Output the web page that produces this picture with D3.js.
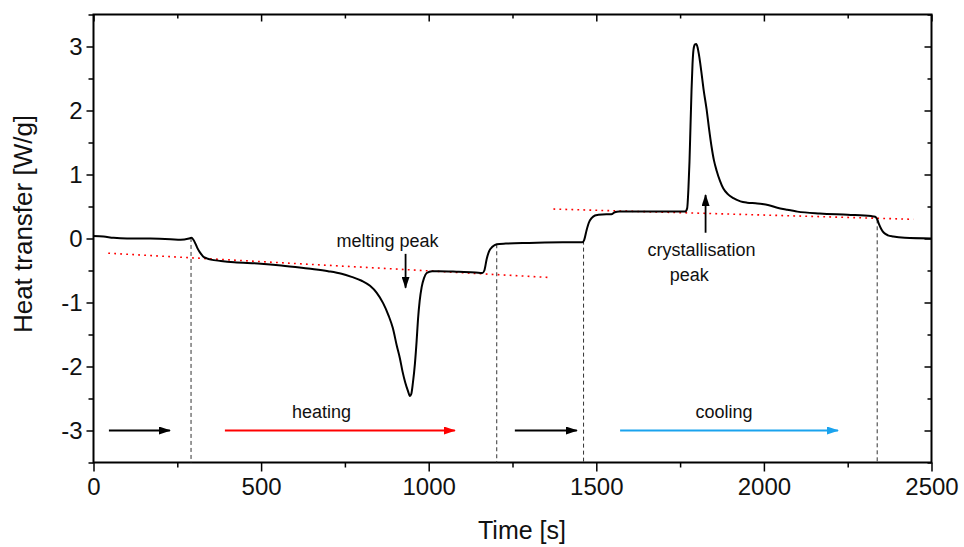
<!DOCTYPE html>
<html>
<head>
<meta charset="utf-8">
<script src="https://cdn.jsdelivr.net/npm/d3@7/dist/d3.min.js"></script>
<style>
  html, body { margin: 0; padding: 0; background: #fff; }
  svg { display: block; }
  text { font-family: "Liberation Sans", Arial, sans-serif; fill: #111; }
</style>
</head>
<body>
<div id="chart"></div>
<script>
// ---------- data ----------
const timeS = [0,30,60,100,170,230,260,285,292,298,304,310,318,327,338,350,380,420,490,560,640,700,740,770,800,825,845,864,880,893,905,914,922,930,938,944,948,953,959,964,968,973,979,986,994,1010,1030,1090,1140,1160,1166,1173,1180,1190,1203,1230,1300,1400,1458,1464,1471,1478,1486,1496,1506,1530,1545,1555,1568,1600,1700,1765,1771,1775,1778,1781,1784,1787,1790,1794,1798,1802,1806,1810,1814,1820,1829,1836,1844,1851,1859,1869,1879,1893,1909,1930,1950,1975,1995,2015,2040,2068,2100,2167,2250,2320,2332,2338,2343,2350,2358,2370,2386,2420,2500];
const heatWg = [0.04,0.03,0.01,0.0,0.0,-0.01,-0.02,0.0,0.01,-0.02,-0.08,-0.15,-0.22,-0.28,-0.31,-0.33,-0.35,-0.37,-0.39,-0.42,-0.47,-0.51,-0.55,-0.60,-0.66,-0.74,-0.85,-1.01,-1.20,-1.40,-1.68,-1.87,-2.08,-2.25,-2.38,-2.46,-2.43,-2.25,-1.95,-1.60,-1.27,-0.98,-0.76,-0.62,-0.54,-0.51,-0.51,-0.52,-0.53,-0.54,-0.50,-0.32,-0.20,-0.13,-0.09,-0.08,-0.07,-0.06,-0.06,-0.02,0.13,0.25,0.32,0.36,0.37,0.38,0.38,0.41,0.42,0.42,0.42,0.42,0.47,0.80,1.20,1.75,2.30,2.72,2.95,3.03,3.04,2.99,2.88,2.74,2.58,2.33,2.02,1.73,1.43,1.22,1.06,0.90,0.78,0.69,0.63,0.58,0.56,0.55,0.54,0.52,0.48,0.45,0.42,0.39,0.37,0.35,0.34,0.30,0.23,0.15,0.09,0.05,0.03,0.01,0.0];

// phase boundaries (s)
const phaseBoundaries = [291, 1203, 1462, 2338];

// red dotted baselines: [t0, y0, t1, y1]
const baselines = [
  [44, -0.23, 1362, -0.61],
  [1372, 0.46, 2446, 0.30]
];

// phase arrows at y = -3: [tStart, tEnd, colour]
const phaseArrows = [
  [46, 228, "#000000"],
  [392, 1078, "#ff0000"],
  [1257, 1442, "#000000"],
  [1571, 2221, "#1aa3ee"]
];
const arrowLevel = -3;

// peak arrows: [t, yStart, yEnd]
const peakArrows = [
  [931, -0.24, -0.77],
  [1826, 0.09, 0.68]
];

// labels: [text, t, y]
const labels = [
  ["melting peak", 877, -0.13],
  ["crystallisation", 1814, -0.27],
  ["peak", 1777, -0.67],
  ["heating", 680, -2.80],
  ["cooling", 1881, -2.80]
];

const xMajor = [0, 500, 1000, 1500, 2000, 2500];
const xMinor = [250, 750, 1250, 1750, 2250];
const yMajor = [-3, -2, -1, 0, 1, 2, 3];
const yMinor = [-3.5, -2.5, -1.5, -0.5, 0.5, 1.5, 2.5, 3.5];

// ---------- layout ----------
const W = 964, H = 547;
const m = {left: 93.5, right: 32.5, top: 14.5, bottom: 84.5};
const iw = W - m.left - m.right, ih = H - m.top - m.bottom;

const svg = d3.select("#chart").append("svg").attr("width", W).attr("height", H);
const g = svg.append("g").attr("transform", `translate(${m.left},${m.top})`);

const x = d3.scaleLinear().domain([0, 2500]).range([0, iw]);
const y = d3.scaleLinear().domain([-3.5, 3.5]).range([ih, 0]);

// arrow markers
const defs = svg.append("defs");
function marker(id, color) {
  defs.append("marker")
    .attr("id", id).attr("viewBox", "0 0 12 8")
    .attr("refX", 11).attr("refY", 4)
    .attr("markerWidth", 12).attr("markerHeight", 8)
    .attr("markerUnits", "userSpaceOnUse")
    .attr("orient", "auto")
    .append("path").attr("d", "M0,0 L12,4 L0,8 Z").attr("fill", color);
}

// axes
function styleAxis(sel) {
  sel.select(".domain").remove();
  sel.selectAll("line").attr("stroke", "#000").attr("stroke-width", 1.5);
  sel.selectAll("text").style("font-size", "24px").attr("fill", "#111");
}
g.append("g").attr("transform", `translate(0,${ih})`)
  .call(d3.axisBottom(x).tickValues(xMajor).tickSize(9).tickPadding(6).tickFormat(d3.format("d")))
  .call(styleAxis);
g.append("g").attr("transform", `translate(0,${ih})`)
  .call(d3.axisBottom(x).tickValues(xMinor).tickSize(5).tickFormat(""))
  .call(styleAxis);
g.append("g")
  .call(d3.axisTop(x).tickValues(xMajor).tickSize(-7).tickFormat(""))
  .call(styleAxis);
g.append("g")
  .call(d3.axisTop(x).tickValues(xMinor).tickSize(-4).tickFormat(""))
  .call(styleAxis);
g.append("g")
  .call(d3.axisLeft(y).tickValues(yMajor).tickSize(7).tickPadding(4).tickFormat(d => d < 0 ? "-" + Math.abs(d) : d))
  .call(styleAxis);
g.append("g")
  .call(d3.axisLeft(y).tickValues(yMinor).tickSize(5).tickFormat(""))
  .call(styleAxis);
g.append("g").attr("transform", `translate(${iw},0)`)
  .call(d3.axisRight(y).tickValues(yMajor).tickSize(-7).tickFormat(""))
  .call(styleAxis);
g.append("g").attr("transform", `translate(${iw},0)`)
  .call(d3.axisRight(y).tickValues(yMinor).tickSize(-4).tickFormat(""))
  .call(styleAxis);

// frame
g.append("rect").attr("x", 0).attr("y", 0).attr("width", iw).attr("height", ih)
  .attr("fill", "none").attr("stroke", "#000").attr("stroke-width", 2);

// phase boundary dashed lines
const interp = t => {
  const i = d3.bisectLeft(timeS, t);
  if (i <= 0) return heatWg[0];
  const t0 = timeS[i-1], t1 = timeS[i];
  return heatWg[i-1] + (heatWg[i] - heatWg[i-1]) * (t - t0) / (t1 - t0);
};
g.selectAll(".phase").data(phaseBoundaries).join("line")
  .attr("x1", d => x(d)).attr("x2", d => x(d))
  .attr("y1", d => y(interp(d))).attr("y2", ih)
  .attr("stroke", "#333").attr("stroke-width", 1).attr("stroke-dasharray", "4,3");

// red dotted baselines
g.selectAll(".base").data(baselines).join("line")
  .attr("x1", d => x(d[0])).attr("y1", d => y(d[1]))
  .attr("x2", d => x(d[2])).attr("y2", d => y(d[3]))
  .attr("stroke", "#ff0000").attr("stroke-width", 1.6).attr("stroke-dasharray", "1.8,4.2");

// curve
const series = timeS.map((t, i) => [t, heatWg[i]]);
g.append("path").datum(series)
  .attr("fill", "none").attr("stroke", "#000").attr("stroke-width", 2)
  .attr("stroke-linejoin", "round")
  .attr("d", d3.line().x(d => x(d[0])).y(d => y(d[1])).curve(d3.curveMonotoneX));

// phase arrows
phaseArrows.forEach((a, i) => {
  const id = "pa" + i;
  marker(id, a[2]);
  g.append("line")
    .attr("x1", x(a[0])).attr("x2", x(a[1]))
    .attr("y1", y(arrowLevel)).attr("y2", y(arrowLevel))
    .attr("stroke", a[2]).attr("stroke-width", 2)
    .attr("marker-end", `url(#${id})`);
});

// peak arrows
marker("pk", "#000");
g.selectAll(".pk").data(peakArrows).join("line")
  .attr("x1", d => x(d[0])).attr("x2", d => x(d[0]))
  .attr("y1", d => y(d[1])).attr("y2", d => y(d[2]))
  .attr("stroke", "#000").attr("stroke-width", 1.8)
  .attr("marker-end", "url(#pk)");

// annotation labels
g.selectAll(".lbl").data(labels).join("text")
  .attr("x", d => x(d[1])).attr("y", d => y(d[2]))
  .attr("text-anchor", "middle")
  .style("font-size", "18px").attr("fill", "#222")
  .text(d => d[0]);

// axis titles
svg.append("text")
  .attr("transform", `translate(32,224) rotate(-90)`)
  .attr("text-anchor", "middle")
  .style("font-size", "26px").attr("fill", "#111")
  .text("Heat transfer [W/g]");
svg.append("text")
  .attr("x", 522).attr("y", 539)
  .attr("text-anchor", "middle")
  .style("font-size", "25px").attr("fill", "#111")
  .text("Time [s]");
</script>
</body>
</html>
